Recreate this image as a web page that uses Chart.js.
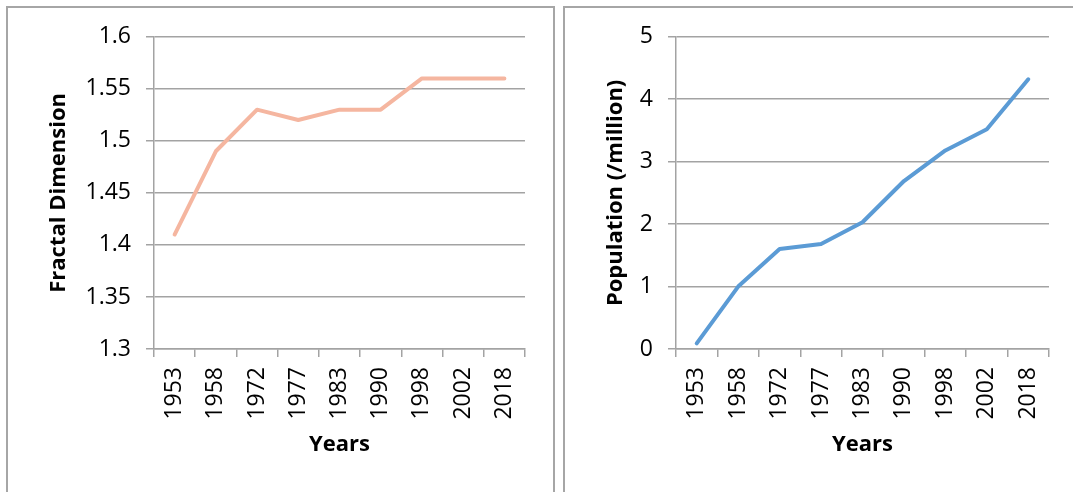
<!DOCTYPE html>
<html>
<head>
<meta charset="utf-8">
<script src="https://cdn.jsdelivr.net/npm/chart.js@4.4.1/dist/chart.umd.min.js"></script>
<style>
  html, body { margin: 0; padding: 0; background: #fff; overflow: hidden; }
  body { width: 1073px; height: 492px; position: relative; }
  .panel { position: absolute; top: 6px; height: 500px; border: 2px solid #a6a6a6; background: #fff; }
  #leftPanel { left: 6px; width: 545px; }
  #rightPanel { left: 563px; width: 520px; }
  canvas { position: absolute; left: 0; top: 0; }
</style>
</head>
<body>
<div class="panel" id="leftPanel"><canvas id="fractalChart" width="545" height="484"></canvas></div>
<div class="panel" id="rightPanel"><canvas id="populationChart" width="508" height="484"></canvas></div>
<script>
// survey years, shared by both charts
var years = ['1953', '1958', '1972', '1977', '1983', '1990', '1998', '2002', '2018'];

// fractal dimension of the urban area
var fractalDim = [1.41, 1.49, 1.53, 1.52, 1.53, 1.53, 1.56, 1.56, 1.56];
var fractalTicks = ['1.3', '1.35', '1.4', '1.45', '1.5', '1.55', '1.6'];

// population, millions
var population = [0.09, 1.0, 1.6, 1.68, 2.03, 2.69, 3.18, 3.52, 4.32];
var populationTicks = ['0', '1', '2', '3', '4', '5'];

var FONT = '"Open Sans", Lato, sans-serif';
var GRID = '#a3a3a3';

function makeChart(canvasId, values, tickLabels, min, max, step, color, yTitle, yWidth, padRight) {
    var ctx = document.getElementById(canvasId).getContext('2d');
    return new Chart(ctx, {
        type: 'line',
        data: {
            labels: years,
            datasets: [{
                data: values,
                borderColor: color,
                borderWidth: 4,
                borderCapStyle: 'round',
                borderJoinStyle: 'round',
                pointRadius: 0,
                tension: 0,
                fill: false
            }]
        },
        options: {
            responsive: false,
            animation: false,
            devicePixelRatio: 1,
            layout: { padding: { left: 34, top: 27, right: padRight, bottom: 30 } },
            plugins: { legend: { display: false }, tooltip: { enabled: false } },
            scales: {
                x: {
                    offset: true,
                    grid: { offset: true, drawOnChartArea: false, drawTicks: true, tickLength: 8, color: GRID, lineWidth: 1.5 },
                    border: { display: true, color: GRID, width: 1.5 },
                    ticks: { minRotation: 90, maxRotation: 90, padding: 10, color: '#000', font: { family: FONT, size: 23 } },
                    title: { display: true, text: 'Years', color: '#000', font: { family: FONT, size: 22, weight: 'bold' }, padding: { top: 4, bottom: 4 } },
                    afterFit: function (scale) { scale.height = 113; }
                },
                y: {
                    min: min,
                    max: max,
                    ticks: {
                        stepSize: step,
                        padding: 15,
                        color: '#000',
                        font: { family: FONT, size: 23 },
                        callback: function (value, index) { return tickLabels[index]; }
                    },
                    grid: { color: GRID, lineWidth: 1.5, drawTicks: true, tickLength: 8 },
                    border: { display: true, color: GRID, width: 1.5 },
                    title: { display: true, text: yTitle, color: '#000', font: { family: FONT, size: 22, weight: 'bold' }, padding: { top: 4, bottom: 4 } },
                    afterFit: function (scale) { scale.width = yWidth; }
                }
            }
        }
    });
}

makeChart('fractalChart', fractalDim, fractalTicks, 1.3, 1.6, 0.05, '#f5b6a0', 'Fractal Dimension', 112, 28);
makeChart('populationChart', population, populationTicks, 0, 5, 1, '#5b9bd5', 'Population (/million)', 77, 24);
</script>
</body>
</html>
